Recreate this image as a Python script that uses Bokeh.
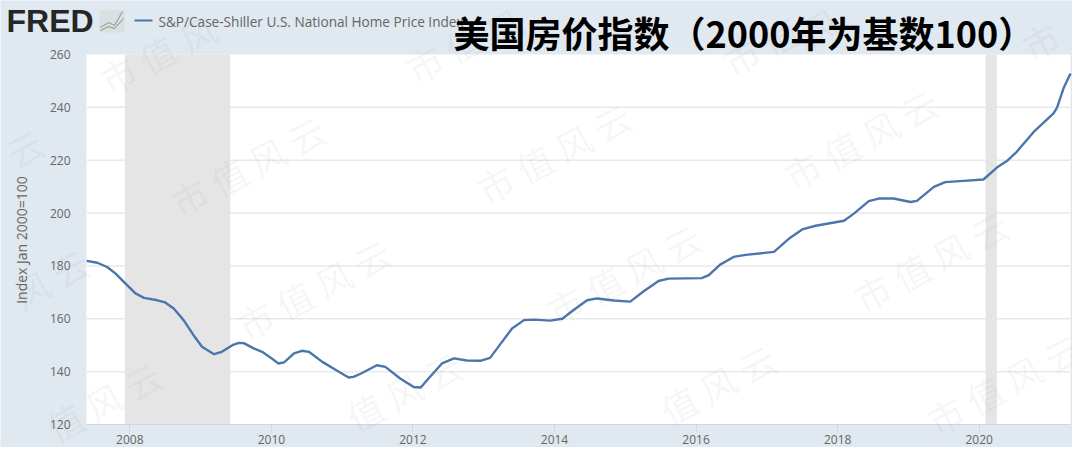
from bokeh.embed import file_html
from bokeh.resources import INLINE
from bokeh.plotting import figure
from bokeh.models import FixedTicker, Label, PolyAnnotation, BoxAnnotation, Range1d

years = [2007.39,2007.54,2007.68,2007.80,2007.94,2008.08,2008.20,2008.39,2008.50,2008.62,2008.76,2008.90,2009.02,2009.19,
         2009.30,2009.45,2009.54,2009.61,2009.75,2009.87,2009.99,2010.10,2010.18,2010.32,2010.43,2010.53,2010.72,2010.90,
         2011.09,2011.16,2011.26,2011.49,2011.61,2011.82,2012.01,2012.11,2012.22,2012.41,2012.58,2012.76,2012.95,2013.09,
         2013.24,2013.40,2013.57,2013.71,2013.94,2014.11,2014.27,2014.46,2014.60,2014.84,2015.07,2015.26,2015.47,2015.61,
         2016.08,2016.18,2016.34,2016.53,2016.70,2017.10,2017.33,2017.50,2017.69,2018.09,2018.23,2018.44,2018.58,2018.79,
         2019.03,2019.12,2019.36,2019.52,2019.78,2020.06,2020.25,2020.39,2020.53,2020.77,2021.05,2021.10,2021.19,2021.29]
index_values = [181.9,181.2,179.6,177.1,173.3,169.6,167.9,167.0,166.2,163.9,159.5,153.8,149.4,146.6,
                147.5,150.0,150.9,150.8,148.8,147.5,145.3,143.1,143.5,146.9,147.9,147.5,143.7,140.8,
                137.8,138.0,139.2,142.4,141.8,137.4,134.2,134.0,137.4,143.1,145.0,144.2,144.1,145.2,
                150.6,156.3,159.5,159.7,159.3,160.0,163.3,167.0,167.7,166.9,166.5,170.4,174.3,175.2,
                175.4,176.5,180.5,183.4,184.2,185.3,190.7,193.8,195.2,197.1,199.8,204.5,205.5,205.5,
                204.2,204.6,209.9,211.7,212.2,212.7,217.2,219.7,223.2,230.7,237.7,239.9,247.1,252.8]
recession_start = [2007.93, 2020.09]
recession_end = [2009.42, 2020.25]
x_ticks = [2008, 2010, 2012, 2014, 2016, 2018, 2020]
y_ticks = [120, 140, 160, 180, 200, 220, 240, 260]
series_name = "S&P/Case-Shiller U.S. National Home Price Index"
y_title = "Index Jan 2000=100"
chart_title = "美国房价指数（2000年为基数100）"
logo_text = "FRED"
watermark_full = "市 值 风 云"

BG = "#e0e8f0"
LINE = "#4a76ab"
W, H = 1072, 447
# plot panel position on the canvas, and the values at its edges
PX0, PX1, PY0, PY1 = 86, 1070, 54, 424
XMIN, XMAX, YMIN, YMAX = 2007.388, 2021.29, 120, 260
kx = (PX1 - PX0) / (XMAX - XMIN)
ky = (PY1 - PY0) / (YMAX - YMIN)

p = figure(width=W, height=H, output_backend="svg", toolbar_location=None,
           x_range=Range1d(XMIN - PX0 / kx, XMAX + (W - PX1) / kx),
           y_range=Range1d(YMIN - (H - PY1) / ky, YMAX + PY0 / ky),
           min_border=0)
p.background_fill_color = BG
p.border_fill_color = BG
p.outline_line_color = None
p.xgrid.visible = False
p.ygrid.visible = False

p.quad(left=[XMIN], right=[XMAX], bottom=[YMIN], top=[YMAX], fill_color="white", line_color=None, level="image")
grid_levels = y_ticks[1:-1]
p.segment(x0=[XMIN] * len(grid_levels), x1=[XMAX] * len(grid_levels), y0=grid_levels, y1=grid_levels,
          line_color="#e9e9e9", line_width=1.5, level="underlay")

p.xaxis.fixed_location = YMIN
p.yaxis.fixed_location = XMIN
p.xaxis.bounds = (XMIN, XMAX)
p.yaxis.bounds = (YMIN, YMAX)
p.xaxis.ticker = FixedTicker(ticks=x_ticks)
p.yaxis.ticker = FixedTicker(ticks=y_ticks)
p.xaxis.formatter.use_scientific = False
p.xaxis.axis_line_color = "#ccd6eb"
p.xaxis.major_tick_line_color = "#ccd6eb"
p.xaxis.major_tick_out = 8
p.xaxis.major_tick_in = 0
p.xaxis.minor_tick_line_color = None
p.yaxis.axis_line_color = None
p.yaxis.major_tick_line_color = None
p.yaxis.minor_tick_line_color = None
p.yaxis.major_tick_out = 0
p.yaxis.major_tick_in = 0
p.yaxis.major_label_standoff = 16
p.xaxis.major_label_standoff = 2
for ax in (p.xaxis, p.yaxis):
    ax.major_label_text_font = "Open Sans"
    ax.major_label_text_font_size = "12px"
    ax.major_label_text_color = "#666666"

p.quad(left=recession_start, right=recession_end, bottom=YMIN, top=YMAX,
       fill_color="#e5e5e5", line_color=None)
p.line(years, index_values, line_color=LINE, line_width=2.4, line_join="round")


def sy(v):
    return H - v


def add_text(text, x, y, size, color="#666666", font="Open Sans", style="normal",
             angle=0, alpha=1.0, align="left", baseline="middle"):
    p.add_layout(Label(x=x, y=sy(y), x_units="screen", y_units="screen", text=text,
                       text_font=font, text_font_size=size, text_font_style=style,
                       text_color=color, text_alpha=alpha, angle=angle, angle_units="deg",
                       text_align=align, text_baseline=baseline))


def add_stroke(points, color, width):
    xs = [a for a, b in points]
    ys = [sy(b) for a, b in points]
    p.add_layout(PolyAnnotation(xs=xs + xs[::-1], ys=ys + ys[::-1], xs_units="screen", ys_units="screen",
                                fill_color=None, line_color=color, line_alpha=1, line_width=width))


add_text(y_title, 21, 239.5, "14px", angle=90, align="center")
add_text(logo_text, 6, 20.5, "32px", color="#262626", font="Liberation Sans", style="bold")
p.add_layout(BoxAnnotation(left=99, right=124, top=sy(10), bottom=sy(32),
                           left_units="screen", right_units="screen", top_units="screen", bottom_units="screen",
                           fill_color="#dcdedf", fill_alpha=1, line_color=None))
add_stroke([(100, 27), (108, 22), (114, 25), (122, 11)], "#8aa6c4", 1)
add_stroke([(100, 30), (108, 26), (114, 28), (123, 18)], "#8fb07a", 1)
add_stroke([(134, 20), (152, 20)], LINE, 2)
add_text(series_name, 158, 21, "13.6px")

# faint rotated watermarks, (text, centre x, centre y) in picture pixels
for txt, wx, wy in [("市 值", 137, 63), ("风", 197, 33), ("市 值", 443, 52), ("风", 503, 26),
                    ("市 值", 760, 45), ("风", 820, 26), ("市", 1040, 40),
                    (watermark_full, 247, 165), (watermark_full, 553, 152), (watermark_full, 860, 138),
                    (watermark_full, 313, 288), (watermark_full, 623, 273), (watermark_full, 930, 260),
                    ("风 云", 50, 277), ("云", 24, 147),
                    ("值 风 云", 103, 400), ("值 风 云", 403, 390), ("值 风 云", 717, 383),
                    (watermark_full, 1003, 383)]:
    add_text(txt, wx, wy, "36px", color="#777777", font="Noto Sans CJK SC",
             angle=28, alpha=0.08, align="center")

add_text(chart_title, 453, 31, "36px", color="#000000", font="Noto Sans CJK SC", style="bold")

open("out.html", "w").write(file_html(p, INLINE))
